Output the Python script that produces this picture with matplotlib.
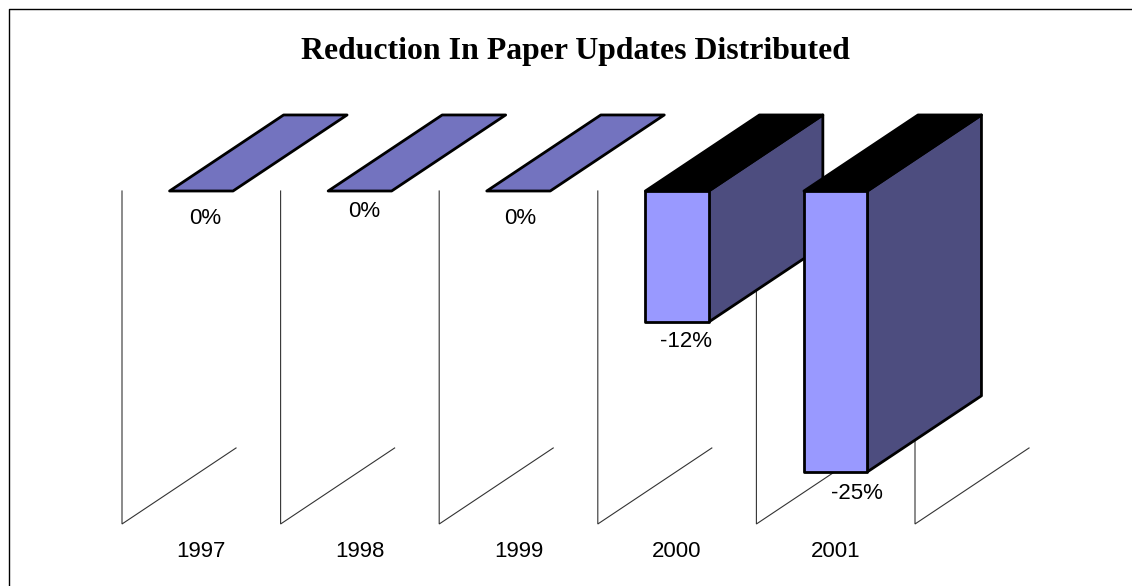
import matplotlib
matplotlib.use("Agg")
import matplotlib.pyplot as plt
from matplotlib.lines import Line2D
from matplotlib.patches import Polygon

# Yearly change in paper updates distributed, percent
years = ["1997", "1998", "1999", "2000", "2001"]
changes = [0.0, 0.0, 0.0, -11.8, -25.3]
labels = ["0%", "0%", "0%", "-12%", "-25%"]
# Offsets of the value labels below each bar, in percentage points
label_drop = [2.5, 1.85, 2.5, 1.75, 1.95]
label_shift = [0.025, 0.03, 0.01, 0.055, 0.135]

FRONT = "#9999FF"
SIDE = "#4D4D7F"
TOP = "#000000"
FLAT = "#7373BF"
BAR_WIDTH = 0.4
DEPTH_X = 0.719
DEPTH_Y = 6.85
FLOOR = -30

W, H = 1132, 586
fig = plt.figure(figsize=(W / 100, H / 100), dpi=100, facecolor="white")
ax = fig.add_axes([122 / W, 1 - 524 / H, (915 - 122) / W, (524 - 191) / H])
ax.set_xlim(0, 5)
ax.set_ylim(FLOOR, 0)
ax.axis("off")

# Outer chart border: left and top edges
fig.add_artist(Line2D([8.8 / W, 8.8 / W, 1], [0, 1 - 9.3 / H, 1 - 9.3 / H],
                      color="black", lw=1.0))

# Wireframe walls of the 3D plot area
for i in range(len(years) + 1):
    ax.plot([i, i, i + DEPTH_X], [0, FLOOR, FLOOR + DEPTH_Y],
            color="#333333", lw=0.8, clip_on=False, zorder=1,
            solid_joinstyle="miter")

edge = dict(edgecolor="black", linewidth=2.0, joinstyle="round", clip_on=False)

for i, (v, lab) in enumerate(zip(changes, labels)):
    x0 = i + 0.5 - BAR_WIDTH / 2
    x1 = x0 + BAR_WIDTH
    z = 2 + i
    if v == 0:
        ax.add_patch(Polygon([(x0, 0), (x1, 0), (x1 + DEPTH_X, DEPTH_Y),
                              (x0 + DEPTH_X, DEPTH_Y)],
                             facecolor=FLAT, zorder=z, **edge))
    else:
        ax.add_patch(Polygon([(x1, 0), (x1 + DEPTH_X, DEPTH_Y),
                              (x1 + DEPTH_X, v + DEPTH_Y), (x1, v)],
                             facecolor=SIDE, zorder=z, **edge))
        ax.add_patch(Polygon([(x0, 0), (x1, 0), (x1 + DEPTH_X, DEPTH_Y),
                              (x0 + DEPTH_X, DEPTH_Y)],
                             facecolor=TOP, zorder=z, **edge))
        ax.bar(i + 0.5, v, width=BAR_WIDTH, bottom=0, color=FRONT,
               zorder=z, **edge)
    ax.text(i + 0.5 + label_shift[i], v - label_drop[i], lab, ha="center",
            va="center", fontsize=16, family="Liberation Sans",
            color="black", zorder=20)
    ax.text(i + 0.5, FLOOR - 2.5, years[i], ha="center", va="center",
            fontsize=16, family="Liberation Sans", color="black")

fig.text(575 / W, 1 - 51.5 / H, "Reduction In Paper Updates Distributed",
         ha="center", va="center", fontsize=22.9, fontweight="bold",
         family="Liberation Serif", color="black")

fig.savefig("out.png", dpi=100, facecolor="white")
